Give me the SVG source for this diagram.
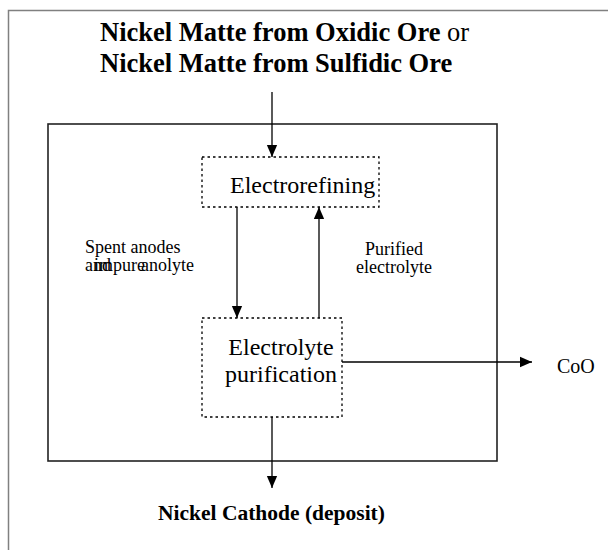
<svg xmlns="http://www.w3.org/2000/svg" width="608" height="550" viewBox="0 0 608 550">
<defs>
<marker id="ah" markerWidth="12" markerHeight="14" refX="14" refY="6" orient="auto" markerUnits="userSpaceOnUse" viewBox="0 0 14 12">
<path d="M0,0 L14,6 L0,12 Z" fill="#000"/>
</marker>
</defs>
<style>
text{font-family:"Liberation Serif","Times New Roman",serif;fill:#000}
.title{font-size:26.5px;font-weight:bold}
.reg{font-weight:normal}
.lab{font-size:24px}
.small{font-size:18px}
.dot{fill:none;stroke:#000;stroke-width:1.3;stroke-dasharray:2.5,3}
.ln{stroke:#000;stroke-width:1.3;fill:none}
</style>
<rect x="8.5" y="10.5" width="620" height="560" fill="none" stroke="#808080" stroke-width="1.5"/>
<g id="inputs">
<text class="title" x="100" y="41">Nickel Matte from Oxidic Ore<tspan class="reg"> or</tspan></text>
<text class="title" x="100" y="72">Nickel Matte from Sulfidic Ore</text>
</g>
<g id="plant">
<rect x="48" y="124" width="449" height="337" fill="none" stroke="#222" stroke-width="1.6"/>
</g>
<g id="electrorefining">
<rect class="dot" x="202" y="157" width="177" height="50"/>
<text class="lab" x="230" y="193">Electrorefining</text>
</g>
<g id="purification">
<rect class="dot" x="202" y="318" width="140" height="99"/>
<text class="lab" x="281" y="355" text-anchor="middle">Electrolyte</text>
<text class="lab" x="281" y="382" text-anchor="middle">purification</text>
</g>
<g id="coo">
<text x="557" y="373" font-size="20">CoO</text>
</g>
<g id="cathode">
<text x="158" y="520" font-size="21.5" font-weight="bold">Nickel Cathode (deposit)</text>
</g>
<g id="labels">
<text class="small" x="85" y="253">Spent anodes</text>
<text class="small" x="85" y="271">and</text>
<text class="small" x="94" y="271">impure</text>
<text class="small" x="141" y="271">anolyte</text>
<text class="small" x="394" y="255" text-anchor="middle">Purified</text>
<text class="small" x="394" y="273" text-anchor="middle">electrolyte</text>
</g>
<g id="connectors">
<line class="ln" x1="272" y1="92" x2="272" y2="157" marker-end="url(#ah)"/>
<line class="ln" x1="237" y1="207" x2="237" y2="318" marker-end="url(#ah)"/>
<line class="ln" x1="319" y1="318" x2="319" y2="207" marker-end="url(#ah)"/>
<line class="ln" x1="342" y1="362" x2="532" y2="362" marker-end="url(#ah)"/>
<line class="ln" x1="272" y1="417" x2="272" y2="488" marker-end="url(#ah)"/>
</g>
</svg>
